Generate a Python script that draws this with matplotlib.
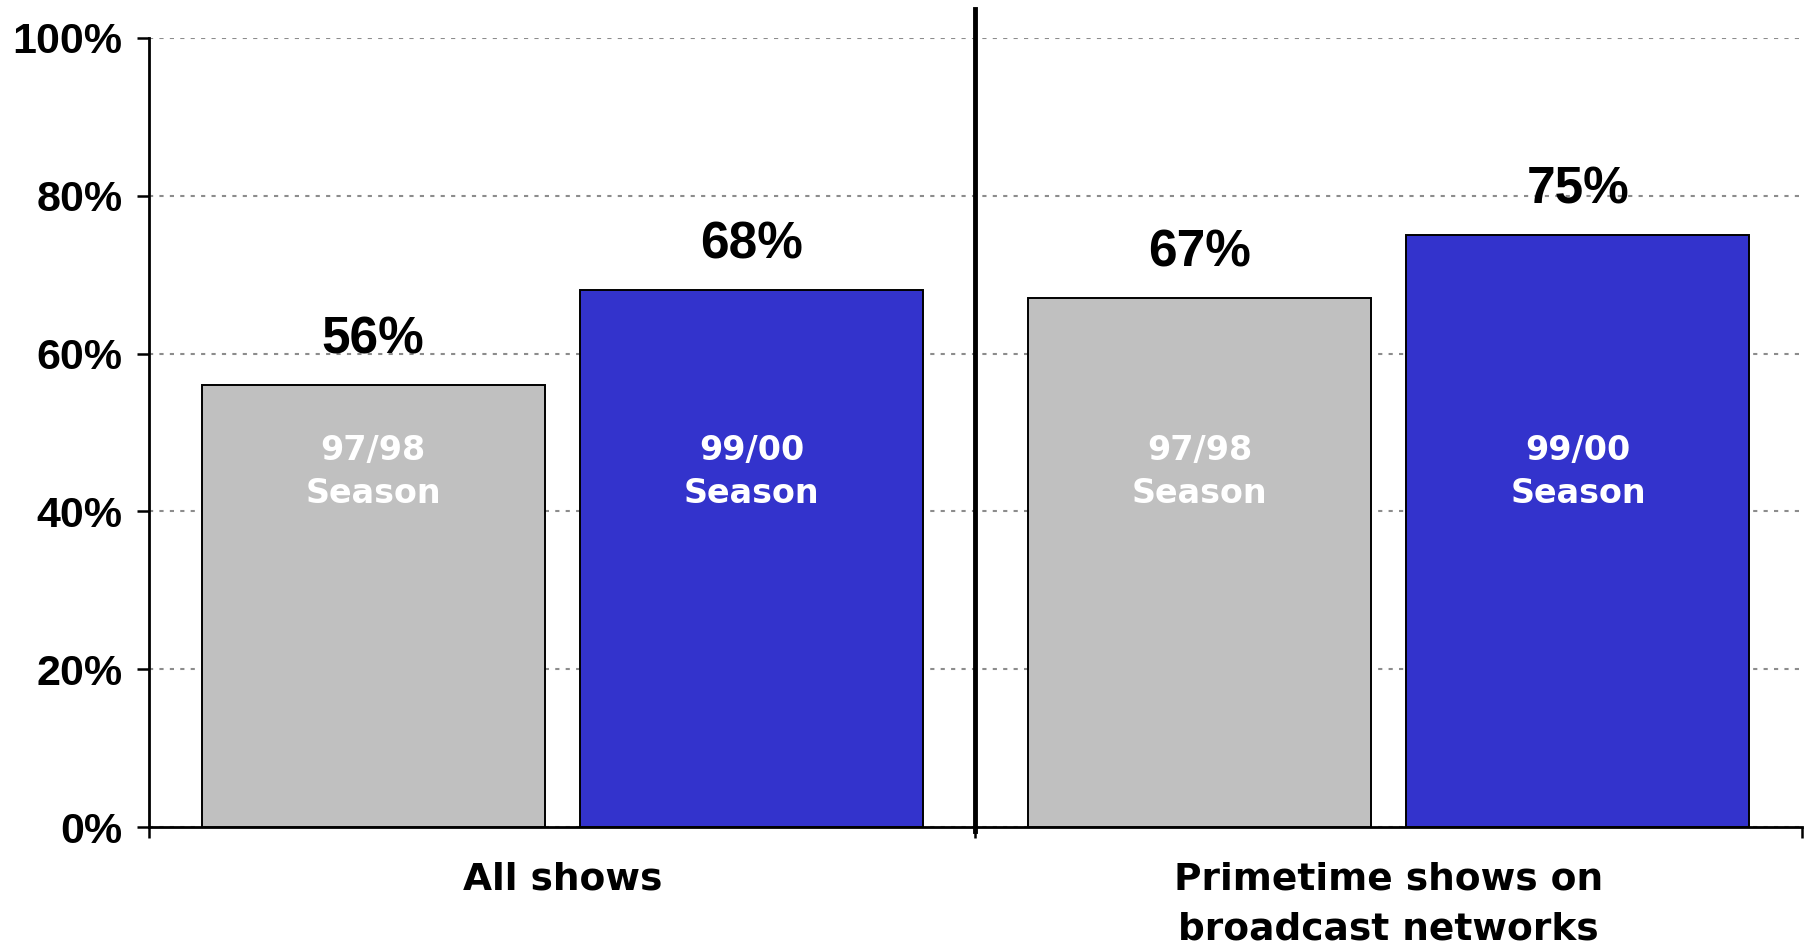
import matplotlib
matplotlib.use('Agg')
import matplotlib.pyplot as plt
import matplotlib.transforms as mtransforms

groups = ['All shows', 'Primetime shows on\nbroadcast networks']
seasons = ['97/98\nSeason', '99/00\nSeason']
season_9798 = [56, 67]
season_9900 = [68, 75]
yticks = [0, 20, 40, 60, 80, 100]
ytick_labels = ['0%', '20%', '40%', '60%', '80%', '100%']

colors = ['#C0C0C0', '#3333CC']
bar_width = 0.415
offset = 0.229

fig = plt.figure(figsize=(18.11, 9.47), dpi=100)
ax = fig.add_axes([0.0823, 0.1267, 0.9127, 0.8332])

centers = [i + 0.5 for i in range(len(groups))]
for k, (vals, color) in enumerate(zip([season_9798, season_9900], colors)):
    xs = [c + (2 * k - 1) * offset for c in centers]
    ax.bar(xs, vals, width=bar_width, color=color,
           edgecolor='black', linewidth=1.4, zorder=3)
    for x, v in zip(xs, vals):
        ax.annotate(f'{v}%', (x, v), xytext=(0, 23), textcoords='offset points',
                    ha='center', va='baseline', fontsize=37,
                    fontweight='bold', family='Liberation Sans')
        ax.text(x, 45, seasons[k], ha='center', va='center', color='white',
                fontsize=24, fontweight='bold', family='DejaVu Sans',
                linespacing=1.4, zorder=4)

ax.set_xlim(0, len(groups))
ax.set_ylim(0, 100)
ax.set_yticks(yticks)
ax.set_yticklabels(ytick_labels, fontsize=31, fontweight='bold',
                   family='Liberation Sans')
ax.set_xticks([0, 1, 2])
ax.set_xticklabels([])
ax.set_xticks(centers, minor=True)
ax.set_xticklabels(groups, minor=True, fontsize=27, fontweight='bold',
                   family='DejaVu Sans', linespacing=1.5, va='top')
ax.tick_params(axis='x', which='major', length=8, width=1.8, direction='out')
ax.tick_params(axis='x', which='minor', length=0, pad=25)
ax.tick_params(axis='y', length=9, width=1.8, pad=10)

ax.yaxis.grid(True, color='#8c8c8c', linestyle=(0, (2, 3)), linewidth=1.5,
              zorder=0)
ax.set_axisbelow(True)
for side in ['top', 'right']:
    ax.spines[side].set_visible(False)
for side in ['left', 'bottom']:
    ax.spines[side].set_linewidth(2)

# divider between the two groups
trans = mtransforms.blended_transform_factory(ax.transData, ax.transAxes)
ax.plot([1, 1], [-0.005, 1.037], color='black', linewidth=3.5, transform=trans,
        clip_on=False, zorder=5)

fig.savefig('out.png', dpi=100)
